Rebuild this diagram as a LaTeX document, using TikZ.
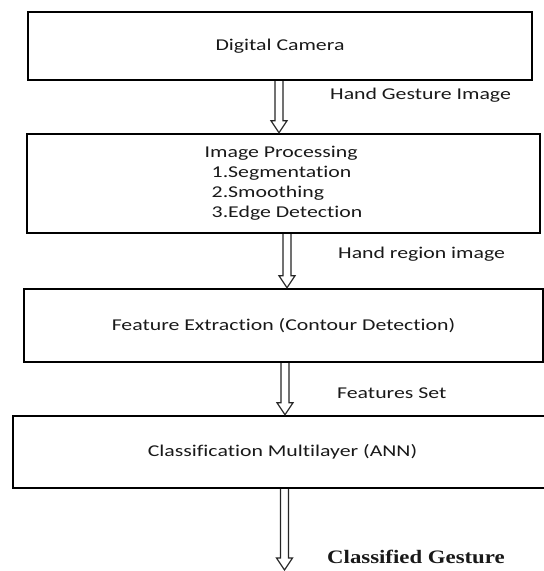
\documentclass[tikz,border=0pt]{standalone}
\usepackage{fontspec}
\setmainfont{Carlito}[FakeStretch=1.32, Ligatures=CommonOff]
\newfontfamily\resultfont{Liberation Serif}[FakeStretch=1.2]
\usepackage{tikz}
\usetikzlibrary{positioning,calc}
\tikzstyle{stage}=[rectangle, draw=black, line width=2.5pt, text centered, text=black!90, inner sep=0pt, font=\fontsize{16.5}{20}\selectfont]
\tikzstyle{flowlabel}=[anchor=west, inner sep=0pt, text=black!90, font=\fontsize{16.5}{20}\selectfont]
\tikzset{hollow/.style={draw=black!85, line width=1.2pt, line join=miter, fill=white}}

% hollow double-line arrow: start, end, x offset
\newcommand{\gesturearrow}[3]{%
    \draw[hollow] let \p1=(#1), \p2=(#2) in
        (\x1+#3-4pt,\y1) -- (\x1+#3-4pt,\y2+12pt) -- (\x1+#3-8pt,\y2+12pt) -- (\x1+#3,\y2)
        -- (\x1+#3+8pt,\y2+12pt) -- (\x1+#3+4pt,\y2+12pt) -- (\x1+#3+4pt,\y1);
}

\begin{document}
\begin{tikzpicture}[x=1pt, y=1pt]
    \useasboundingbox (0,0) rectangle (544,571);

        \node (camera)[stage, minimum width=504pt, minimum height=68pt] at (280,525) {Digital Camera};
        \node (processing)[stage, minimum width=513pt, minimum height=99pt, align=left] at (283.5,387.5)
            {Image Processing\\\hspace*{7pt}1.Segmentation\\\hspace*{7pt}2.Smoothing\\\hspace*{7pt}3.Edge Detection};
        \node (features)[stage, minimum width=519pt, minimum height=73pt] at (283.5,245.5) {Feature Extraction (Contour Detection)};
        \node (classifier)[stage, minimum width=539pt, minimum height=72pt] at (282.5,119) {Classification Multilayer (ANN)};
        \coordinate (gestureend) at (284.5,1);

        \gesturearrow{camera.south}{processing.north}{-1pt}
        \gesturearrow{processing.south}{features.north}{3.5pt}
        \gesturearrow{features.south}{classifier.north}{1.5pt}
        \gesturearrow{classifier.south}{gestureend}{2pt}

        \node (gestureimage)[flowlabel] at (330,476) {Hand Gesture Image};
        \node (handregion)[flowlabel] at (338,317) {Hand region image};
        \node (featureset)[flowlabel] at (337,178) {Features Set};
        \node (classified)[flowlabel, font=\resultfont\bfseries\fontsize{19}{22}\selectfont] at (327,14) {Classified Gesture};

    \end{tikzpicture}
\end{document}
